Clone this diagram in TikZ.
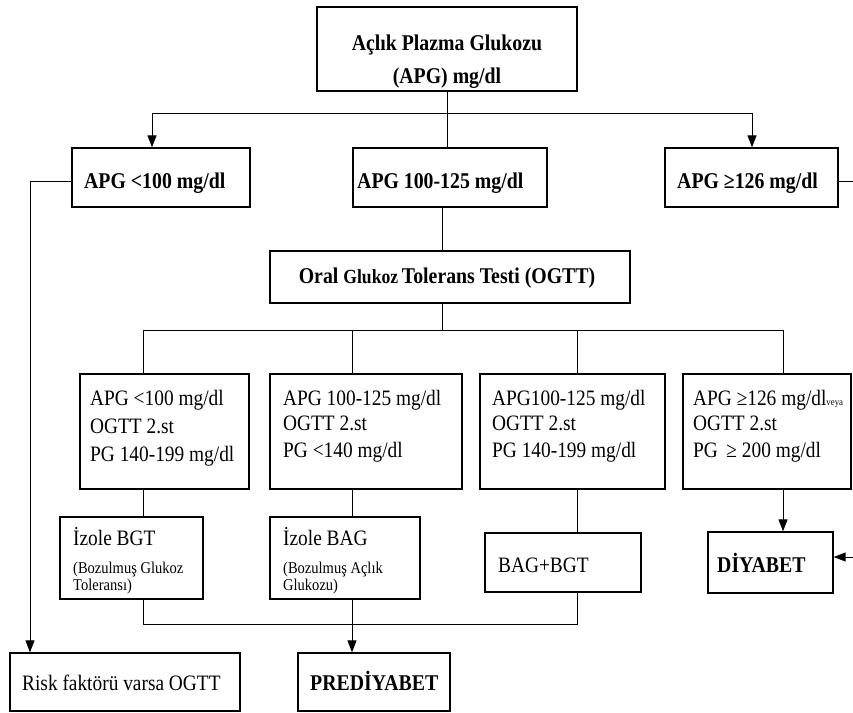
\documentclass[tikz,border=0pt]{standalone}
\usepackage{fontspec}
\setmainfont{Liberation Serif}[FakeStretch=0.88]
\usetikzlibrary{arrows.meta}
\begin{document}
\begin{tikzpicture}[x=1pt,y=-1pt,
  box/.style={draw, line width=1.3pt, inner sep=0pt},
  conn/.style={line width=0.9pt},
  arr/.style={conn, -{Triangle[length=12pt,width=9pt]}},
  bt/.style={font=\fontsize{22.5}{26}\selectfont\bfseries, inner sep=0pt},
  rt/.style={font=\fontsize{22}{25}\selectfont, inner sep=0pt},
  st/.style={font=\fontsize{16.5}{18}\selectfont, inner sep=0pt}]
\useasboundingbox (0,0) rectangle (853,712);
% top
\node[box, minimum width=260pt, minimum height=84pt] (top) at (447,49) {};
\node[bt, anchor=base] (topa) at (447,50) {Açlık Plazma Glukozu};
\node[bt, anchor=base] (topb) at (447,83) {(APG) mg/dl};
% second row
\node[box, minimum width=178pt, minimum height=59pt] (l) at (161,177.5) {};
\node[box, minimum width=194pt, minimum height=59pt] (m) at (450,177.5) {};
\node[box, minimum width=173pt, minimum height=59pt] (r) at (751.5,177.5) {};
\node[bt, anchor=base west] (lt) at (84,188) {APG <100 mg/dl};
\node[bt, anchor=base west] (mt) at (357,188) {APG 100-125 mg/dl};
\node[bt, anchor=base west] (rt) at (677,188) {APG ≥126 mg/dl};
% OGTT
\node[box, minimum width=360pt, minimum height=52pt] (og) at (450,277) {};
\node[bt, anchor=base] (ogt) at (447,283) {Oral {\fontsize{20}{22}\selectfont Glukoz}\,Tolerans Testi (OGTT)};
% third row
\node[box, minimum width=169pt, minimum height=115pt] (b1) at (164.5,431.5) {};
\node[box, minimum width=192pt, minimum height=115pt] (b2) at (366,431.5) {};
\node[box, minimum width=185pt, minimum height=115pt] (b3) at (572.5,431.5) {};
\node[box, minimum width=168pt, minimum height=115pt] (b4) at (767,431.5) {};
\node[rt, anchor=base west] (b1a) at (90,405) {APG <100 mg/dl};
\node[rt, anchor=base west] (b1b) at (90,433) {OGTT 2.st};
\node[rt, anchor=base west] (b1c) at (90,461) {PG 140-199 mg/dl};
\node[rt, anchor=base west] (b2a) at (283,405) {APG 100-125 mg/dl};
\node[rt, anchor=base west] (b2b) at (283,430) {OGTT 2.st};
\node[rt, anchor=base west] (b2c) at (283,457) {PG <140 mg/dl};
\node[rt, anchor=base west] (b3a) at (492,405) {APG100-125 mg/dl};
\node[rt, anchor=base west] (b3b) at (492,430) {OGTT 2.st};
\node[rt, anchor=base west] (b3c) at (492,457) {PG 140-199 mg/dl};
\node[rt, anchor=base west] (b4a) at (693,405) {APG ≥126 mg/dl{\fontsize{10}{11}\selectfont veya}};
\node[rt, anchor=base west] (b4b) at (693,430) {OGTT 2.st};
\node[rt, anchor=base west] (b4c) at (693,457) {PG \,≥ 200 mg/dl};
% fourth row
\node[box, minimum width=143pt, minimum height=82pt] (izbgt) at (131.5,558) {};
\node[box, minimum width=150pt, minimum height=82pt] (izbag) at (345,558) {};
\node[box, minimum width=156pt, minimum height=59pt] (bb) at (563,562.5) {};
\node[box, minimum width=125pt, minimum height=61pt] (diy) at (770.5,562.5) {};
\node[rt, anchor=base west] (izbgta) at (73,545) {İzole BGT};
\node[st, anchor=base west] (izbgtb) at (73,573) {(Bozulmuş Glukoz};
\node[st, anchor=base west] (izbgtc) at (73,590) {Toleransı)};
\node[rt, anchor=base west] (izbaga) at (283,545) {İzole BAG};
\node[st, anchor=base west] (izbagb) at (283,573) {(Bozulmuş Açlık};
\node[st, anchor=base west] (izbagc) at (283,590) {Glukozu)};
\node[rt, anchor=base west] (bbt) at (498,572) {BAG+BGT};
\node[bt, anchor=base west] (diyt) at (717,572) {DİYABET};
% bottom row
\node[box, minimum width=230pt, minimum height=58pt] (risk) at (125,682) {};
\node[box, minimum width=152pt, minimum height=58pt] (pre) at (374,682) {};
\node[rt, anchor=base west] (riskt) at (22,690) {Risk faktörü varsa OGTT};
\node[bt, anchor=base west] (pret) at (310,690) {PREDİYABET};
% connectors
\coordinate (hl) at (152,113);
\coordinate (hr) at (752,113);
\coordinate (tv) at (447,113);
\draw[conn] (top.south -| tv) -- (tv |- m.north);
\draw[conn] (hl) -- (hr);
\draw[arr] (hl) -- (hl |- l.north);
\draw[arr] (hr) -- (hr |- r.north);
\coordinate (lx) at (30,181);
\draw[arr] (l.west |- lx) -- (lx) -- (lx |- risk.north);
\coordinate (rx) at (853,181);
\draw[conn] (r.east |- rx) -- (rx);
\coordinate (h2) at (442,330);
\draw[conn] (m.south -| h2) -- (h2 |- og.north);
\draw[conn] (og.south -| h2) -- (h2);
\coordinate (d1) at (143,330);
\coordinate (d2) at (352,330);
\coordinate (d3) at (577,330);
\coordinate (d4) at (783,330);
\draw[conn] (d1) -- (d4);
\draw[conn] (d1) -- (d1 |- b1.north);
\draw[conn] (d2) -- (d2 |- b2.north);
\draw[conn] (d3) -- (d3 |- b3.north);
\draw[conn] (d4) -- (d4 |- b4.north);
\draw[conn] (b1.south -| d1) -- (d1 |- izbgt.north);
\draw[conn] (b2.south -| d2) -- (d2 |- izbag.north);
\draw[conn] (b3.south -| d3) -- (d3 |- bb.north);
\draw[arr] (b4.south -| d4) -- (d4 |- diy.north);
\coordinate (dx) at (853,557);
\draw[arr] (dx) -- (diy.east |- dx);
\coordinate (j1) at (143,624);
\coordinate (j3) at (577,624);
\draw[conn] (izbgt.south -| j1) -- (j1) -- (j3) -- (bb.south -| j3);
\draw[arr] (izbag.south -| d2) -- (d2 |- pre.north);
\end{tikzpicture}
\end{document}
